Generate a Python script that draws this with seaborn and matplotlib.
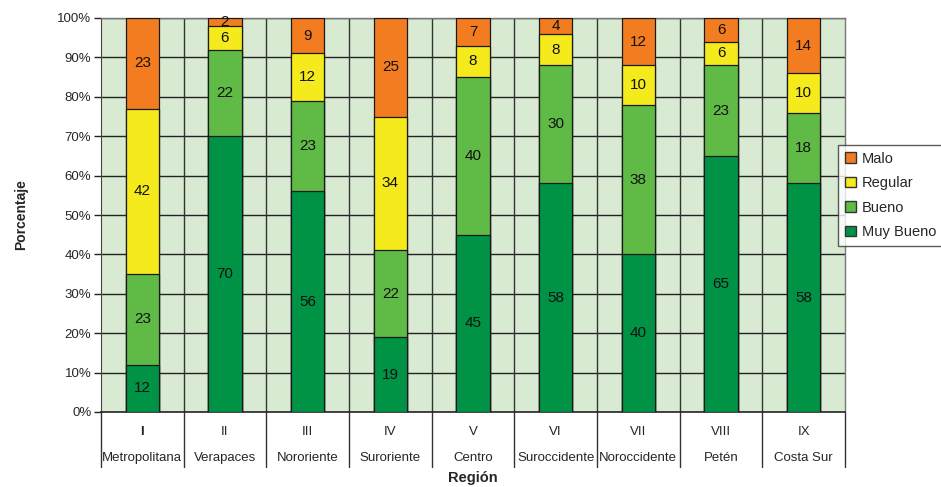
import numpy as np
import pandas as pd
import matplotlib
matplotlib.use('Agg')
import matplotlib.pyplot as plt
from matplotlib.patches import Patch
import seaborn as sns

# Datos
numerales = ['I', 'II', 'III', 'IV', 'V', 'VI', 'VII', 'VIII', 'IX']
regiones = ['Metropolitana', 'Verapaces', 'Nororiente', 'Suroriente', 'Centro',
            'Suroccidente', 'Noroccidente', 'Petén', 'Costa Sur']
muy_bueno = [12, 70, 56, 19, 45, 58, 40, 65, 58]
bueno = [23, 22, 23, 22, 40, 30, 38, 23, 18]
regular = [42, 6, 12, 34, 8, 8, 10, 6, 10]
malo = [23, 2, 9, 25, 7, 4, 12, 6, 14]

series = ['Muy Bueno', 'Bueno', 'Regular', 'Malo']
valores = [muy_bueno, bueno, regular, malo]
colores = {'Muy Bueno': '#009245', 'Bueno': '#60BA46', 'Regular': '#F5EA1C', 'Malo': '#F47C20'}

sns.set_style('white')
plt.rcParams['font.family'] = ['Liberation Sans', 'DejaVu Sans']

fig = plt.figure(figsize=(9.41, 4.87), dpi=100)
ax = fig.add_axes([101 / 941, 1 - 412 / 487, 744 / 941, 394 / 487])
ax.set_facecolor('#D9EAD3')

# Barras apiladas: se dibujan los acumulados de arriba hacia abajo
acum = np.cumsum(np.array(valores), axis=0)
for i in range(len(series) - 1, -1, -1):
    df = pd.DataFrame({'region': regiones, 'valor': acum[i]})
    sns.barplot(data=df, x='region', y='valor', color=colores[series[i]], width=0.4,
                edgecolor='#1a1a1a', linewidth=0.9, saturation=1, ax=ax, zorder=3)

# Etiquetas de valores
for i, s in enumerate(series):
    base = acum[i] - np.array(valores[i])
    for j, v in enumerate(valores[i]):
        ax.text(j, base[j] + v / 2, str(v), ha='center', va='center', fontsize=11,
                color='#111111', zorder=5)

ax.set_xlim(-0.5, len(regiones) - 0.5)
ax.set_ylim(0, 100)
ax.set_yticks(np.arange(0, 101, 10))
ax.set_yticklabels([f'{t}%' for t in range(0, 101, 10)], fontsize=9.5)
ax.tick_params(axis='y', length=5, width=1, color='#222222', pad=2, left=True)
ax.set_xticks([])
ax.set_xlabel('')
ax.set_ylabel('Porcentaje', fontsize=10, fontweight='bold', labelpad=21)

for t in range(10, 101, 10):
    ax.axhline(t, color='#222222', linewidth=1, zorder=1)
for j in range(len(regiones) - 1):
    ax.axvline(j + 0.5, color='#333333', linewidth=1, zorder=1)

for side in ['top', 'right']:
    ax.spines[side].set_color('#777777')
    ax.spines[side].set_linewidth(1)
ax.spines['left'].set_color('#444444')
ax.spines['bottom'].set_color('#222222')
ax.spines['bottom'].set_linewidth(1.2)

# Eje de categorías en dos niveles
trans = ax.get_xaxis_transform()
for j in range(len(regiones)):
    ax.text(j, -0.05, numerales[j], transform=trans, ha='center', va='center', fontsize=9.5,
            fontweight='bold' if j == 0 else 'normal')
    ax.text(j, -0.118, regiones[j], transform=trans, ha='center', va='center', fontsize=9.5)
for j in range(len(regiones) + 1):
    ax.plot([j - 0.5, j - 0.5], [0, -0.14], transform=trans, color='#333333',
            linewidth=1, clip_on=False)
fig.text(473 / 941, 1 - 478 / 487, 'Región', ha='center', va='center', fontsize=10.5,
         fontweight='bold')

# Leyenda
handles = [Patch(facecolor=colores[s], edgecolor='#333333', label=s) for s in reversed(series)]
leg = fig.legend(handles=handles, loc='upper left', bbox_to_anchor=(838 / 941, 1 - 145 / 487),
                 frameon=True, fontsize=10.5, handlelength=0.75, handleheight=0.75,
                 handletextpad=0.45, borderpad=0.45, labelspacing=0.72, borderaxespad=0)
leg.get_frame().set_edgecolor('#333333')
leg.get_frame().set_linewidth(1)
leg.get_frame().set_boxstyle('square', pad=0)

fig.savefig('out.png', dpi=100)
